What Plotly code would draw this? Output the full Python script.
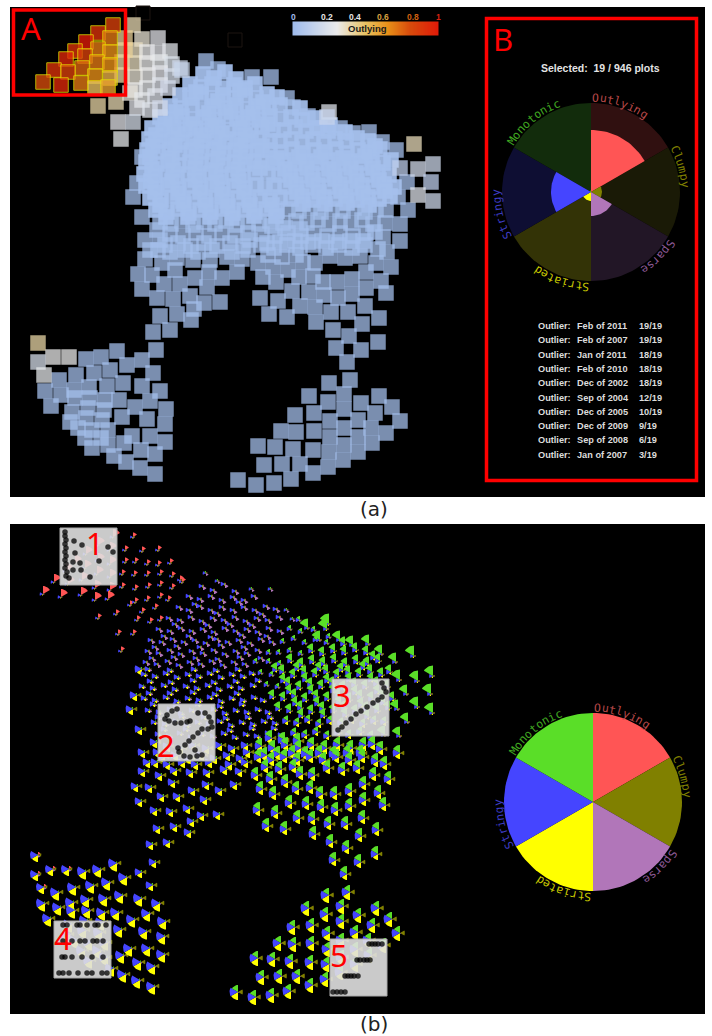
import math
import numpy as np
import plotly.graph_objects as go

# ---- panel (a) point positions ------------------------------------------------------
selected_pts = [(113,25,.85),(98,33,.9),(110,38,.7),(86,42,1),(75,51,.9),(98,49,.7),(110,52,.65),(85,56,.85),
                (66,59,.95),(97,62,.7),(110,65,.65),(82,68,.75),(54,70,.9),(68,72,.85),(95,76,.65),(110,78,.55),
                (43,82,.8),(61,85,.95),(81,83,.7),(95,88,.5),(108,87,.6)]
near_pts = [(133,25,.38),(142,39,.33),(158,38,.27),(170,51,.26),(135,50,.36),(147,52,.3),(158,53,.27),(134,63,.36),
            (147,63,.3),(160,62,.28),(172,64,.24),(180,68,.18),(125,50,.42),(125,38,.42),(122,62,.4),(122,75,.4),
            (135,77,.33),(148,75,.3),(160,73,.27),(172,76,.22),(135,90,.3),(147,88,.28),(160,85,.25),(98,106,.4),
            (116,102,.38),(130,93,.32),(142,100,.28),(155,96,.25),(137,108,.27),(150,110,.25),(118,122,.27),
            (133,122,.22),(121,139,.28),(160,108,.2),(168,88,.2),(182,70,.16)]
right_pale_pts = [(329,112,.25),(327,117,.15),(414,144,.37),(433,164,.18),(418,169,.2),(431,182,.12),(418,195,.25),
                  (433,201,.18),(400,168,.12)]
lower_pale_pts = [(38,343,.4),(53,357,.3),(69,357,.3),(38,362,.22),(44,375,.28)]
faint_pts = [(143,13),(235,40)]

dense_top = [(203,74),(214,78),(225,72),(236,79),(190,84),(201,87),(212,84),(223,88),(234,85),(245,88),(255,84),
             (180,95),(190,98),(201,94),(212,98),(223,95),(234,98),(245,95),(256,98),(267,94),(277,97),
             (170,106),(181,108),(192,105),(203,109),(214,106),(225,108),(236,105),(247,109),(258,106),(269,108),(280,105),
             (160,117),(171,119),(182,116),(193,119),(204,117),(215,120),(226,116),(237,119),(248,117),(259,120),(270,116),(281,119),
             (152,128),(163,130),(174,127),(185,130),(196,128),(207,131),(218,127),(229,130),(240,128),(251,131),(262,127),(273,130),
             (149,139),(160,141),(171,138),(182,142),(193,139),(204,141),(215,138),(226,142),(237,139),(248,141),(259,138),
             (147,150),(158,152),(169,149),(180,153),(191,150),(202,152),(213,149),(224,153),(235,150),(246,152)]
extra_top = [(196,92),(218,101),(240,90),(263,102),(176,112),(209,113),(231,112),(253,113),(165,124),(190,124),(212,125),
             (243,123),(268,124),(156,135),(178,134),(201,135),(222,133),(245,135),(153,146),(175,145),(197,146),(219,147),
             (241,145),(262,146)]
dense_right_small = [(291,117),(302,120),(284,130),(295,127),(306,131),(317,128),(328,131),(270,141),(280,141),(291,139),
                     (302,142),(257,150),(270,150),(281,152),(262,161),(273,163),(268,173),(279,175),(315,118),(330,125),(300,108)]
dense_right = [(313,139),(324,142),(335,139),(346,141),(357,138),(368,141),(292,149),(303,153),(314,150),(325,152),(336,149),
               (347,153),(358,150),(369,152),(380,149),(284,160),(295,164),(306,161),(317,163),(328,160),(339,164),(350,161),
               (361,163),(372,160),(383,163),(391,160),(290,172),(301,176),(312,173),(323,175),(334,172),(345,176),(356,173),
               (367,175),(378,172),(389,175),(274,185),(285,187),(296,184),(307,188),(318,185),(329,187),(340,184),(351,188),
               (362,185),(373,187),(384,184),(394,187),(280,197),(291,199),(302,196),(313,200),(324,197),(335,199),(346,196),
               (357,200),(368,197),(379,199),(390,196),(345,132),(375,146)]
extra_right = [(277,158),(299,157),(321,157),(343,158),(365,156),(285,169),(307,168),(329,169),(351,168),(373,168),(291,180),
               (313,180),(335,179),(357,181),(379,180),(297,192),(319,192),(341,191),(363,193),(385,191),(303,204),(325,204),
               (347,203),(369,205)]
dense_right_low = [(288,209),(299,211),(310,208),(321,212),(332,209),(343,211),(354,208),(365,212),(376,209),(386,210),
                   (296,221),(307,223),(318,220),(329,224),(340,221),(351,223),(362,220),(373,224)]
dense_mid = [(146,162),(157,164),(168,161),(179,165),(190,162),(201,164),(212,161),(223,165),(234,162),(245,164),(254,161),
             (144,174),(155,176),(166,173),(177,177),(188,174),(199,176),(210,173),(221,177),(232,174),(243,176),(255,173),
             (146,186),(157,188),(168,185),(179,189),(190,186),(201,188),(212,185),(223,189),(234,186),(245,188),(256,185),(265,188),
             (150,198),(161,200),(172,197),(183,201),(194,198),(205,200),(216,197),(227,201),(238,198),(249,200),(260,197),(270,200),
             (156,210),(167,212),(178,209),(189,213),(200,210),(211,212),(222,209),(233,213),(244,210),(255,212),(266,209),(277,211)]
mid_low = [(160,222),(171,224),(182,221),(193,225),(204,222),(215,224),(226,221),(237,225),(248,222),(259,224),(270,221),(283,223)]
extra_mid = [(150,157),(172,158),(196,157),(218,158),(240,157),(152,169),(173,170),(195,168),(216,170),(238,169),(260,168),
             (151,181),(172,181),(195,180),(217,182),(239,181),(155,192),(178,193),(200,192),(222,194),(244,192),(160,205),
             (184,204),(206,205),(228,206),(250,205),(272,205),(166,217),(188,217),(210,217),(232,218),(254,216),(276,216)]
outer_left = [(142,157),(137,183),(133,197),(142,217),(145,240),(157,230),(145,259),(138,274),(152,275),(162,263),(175,270),
              (142,289),(164,284),(180,284),(195,278),(209,272),(222,278),(237,272),(242,259),(207,287),(190,296),(157,298),
              (173,299),(204,303),(220,302),(194,309),(160,316),(177,314),(191,320),(153,332),(170,330),(193,260),(210,260),
              (227,257),(177,258),(165,245),(178,243),(191,246),(204,243),(217,246),(230,243),(243,246),(170,234),(183,236),
              (196,233),(209,236),(222,233),(235,236),(248,233),(156,350),(142,360),(153,373),(158,250),(170,252),(185,250),
              (198,252),(212,250),(232,252),(248,250),(250,240),(160,240),(150,250)]
outer_right = [(258,263),(273,267),(263,277),(276,282),(288,270),(303,262),(315,263),(299,277),(313,276),(323,282),(337,282),
               (352,279),(366,272),(376,263),(391,267),(381,281),(366,288),(386,293),(260,298),(278,301),(292,291),(309,292),
               (324,295),(338,298),(352,294),(300,306),(315,307),(331,312),(348,312),(365,306),(269,314),(287,317),(316,322),
               (333,330),(362,324),(379,318),(349,336),(336,348),(361,350),(378,342),(347,362),(261,245),(274,248),(287,245),
               (300,248),(313,245),(326,248),(339,245),(352,248),(365,245),(378,249),(387,252),(383,237),(400,241),(262,234),
               (275,236),(288,233),(301,236),(314,233),(327,236),(340,233),(353,236),(366,233),(268,255),(282,257),(296,255),
               (330,256),(345,258),(360,256),(267,243),(280,242),(295,241),(308,242),(322,241),(336,242),(350,241),(363,241),
               (375,232),(272,226),(285,228),(300,229)]
outer_top_small = [(206,61),(218,69),(252,77),(271,77),(287,98),(293,107)]
outer_top = [(308,116),(320,128),(340,128),(353,133),(369,132),(382,142),(396,150),(407,182),(408,210),(400,224),(385,223),(398,197)]
arm_left = [(86,359),(101,357),(117,351),(127,365),(110,370),(94,373),(76,375),(59,380),(45,391),(74,390),(89,387),(107,386),
            (123,383),(142,386),(160,391),(150,401),(135,407),(119,400),(61,395),(51,406),(166,409),(147,419),(122,417),(165,424),
            (150,436),(132,436),(165,442),(141,450),(155,454),(124,443),(114,456),(126,462),(140,468),(155,474)]
arm_left_dense = [(75,398),(90,398),(105,400),(72,412),(88,408),(104,410),(70,422),(86,418),(102,420),(78,428),(92,430),(108,430),
                  (85,438),(101,438),(92,448),(108,445)]
arm_right = [(350,380),(329,383),(309,396),(328,402),(344,394),(361,403),(379,396),(392,407),(400,421),(375,413),(344,409),
             (295,415),(314,413),(330,421),(358,420),(344,428),(371,428),(386,433),(281,431),(296,432),(314,431),(330,437),
             (358,437),(372,443),(344,445),(258,446),(275,447),(293,449),(313,450),(329,452),(358,452),(343,460),(328,467),
             (264,465),(282,464),(300,464),(313,473),(238,480),(256,485),(274,483),(291,479)]

# ---- measure profile of the small glyphs in panel (b), wedge radius per group --------
measures = ["Outlying", "Clumpy", "Sparse", "Striated", "Stringy", "Monotonic"]
solid_colors = ["#ff5555", "#808000", "#b176b9", "#ffff00", "#4545ff", "#5ade28"]
dark_colors = ["#301010", "#1a1a06", "#221626", "#333306", "#0e0e33", "#122c0c"]
label_colors = ["#b84848", "#808000", "#8e5a96", "#c8c800", "#3c3cc0", "#40a820"]
glyph_selected = [8, 1.5, 1, 1.5, 3.5, .5]
glyph_near = [4.5, 2, 1.5, 1.5, 3, .5]
glyph_top = [1.2, 1, 4, 1.5, 4.5, 1.2]
glyph_top_small = [1, 1.5, 3, 1, 3.5, 2]
glyph_mid = [.5, 1.5, 2.5, 3, 5.5, 1.5]
glyph_right_small = [.5, 1.5, 1.5, 1.5, 4.5, 4]
glyph_right = [.5, 2, 1, 2.5, 5, 7.5]
glyph_right_low = [.5, 2.5, 1, 4, 6, 5.5]
glyph_top_outer = [1, 2, 1.5, 1.5, 4, 9.5]
glyph_left = [.5, 4.5, 1, 6, 7.5, 2]
glyph_lower_right = [.5, 4.5, 1, 6, 7.5, 8]
glyph_arm_left = [.8, 4.5, 1.5, 8.5, 9, 1.5]
glyph_arm_right = [.5, 5, 1, 8, 8.5, 7]
glyph_pale = [3, 3.5, 2.5, 7, 8, 1]
pale_right = [1, 2, 1, 2, 4, 10.5]

# ---- panel (B) -----------------------------------------------------------------------
selected_title = "Selected:  19 / 946 plots"
selected_means = [62, 11, 24, 9, 40, 1.5]
outlier_months = ["Feb of 2011", "Feb of 2007", "Jan of 2011", "Feb of 2010", "Dec of 2002",
                  "Sep of 2004", "Dec of 2005", "Dec of 2009", "Sep of 2008", "Jan of 2007"]
outlier_counts = ["19/19", "19/19", "18/19", "18/19", "18/19", "12/19", "10/19", "9/19", "6/19", "3/19"]
scale_ticks = ["0", "0.2", "0.4", "0.6", "0.8", "1"]
scale_tick_colors = ["#a0bcec", "#e6e6e6", "#e6e6e6", "#d8a040", "#d06010", "#d82010"]
scale_tick_x = [293, 327, 355, 383, 413, 438]
scale_stops = [[0, "#a0bcec"], [.3, "#ebebeb"], [.5, "#e8c060"], [.65, "#e89018"], [.8, "#d84c0c"], [1, "#e01a08"]]

# ---- thumbnails of panel (b) ---------------------------------------------------------
thumb_boxes = [(60,528,"1",95,543), (158,704,"2",166,745), (332,679,"3",342,695), (54,921,"4",63,938), (330,939,"5",339,955)]
thumb1 = [(65,532),(65,536),(66,540),(65,544),(66,548),(65,552),(66,556),(65,560),(66,564),(65,568),(67,572),(66,576),(69,578),
          (74,541),(82,545),(75,553),(108,547),(113,552),(73,562),(80,563),(99,561),(81,570),(73,570),(90,577)]
thumb2 = [(177,709),(172,711),(167,715),(165,719),(169,721),(175,723),(181,723),(187,722),(190,721),(198,713),(205,713),(209,717),
          (211,722),(212,727),(208,729),(202,729),(198,733),(193,737),(189,741),(185,745),(178,748),(179,752),(184,756),(190,757),
          (197,756),(202,755),(195,750)]
thumb3 = [(382,683),(384,688),(386,692),(382,697),(378,700),(373,703),(367,707),(361,711),(356,714),(351,719),(346,723),(342,727),(338,730)]
thumb4 = [(63,925),(67,925),(77,925),(80,925),(87,925),(95,925),(98,925),(106,925),(63,941),(72,941),(80,941),(85,941),(93,941),
          (97,941),(103,941),(62,957),(65,957),(72,957),(82,957),(92,957),(103,957),(59,973),(63,973),(69,973),(78,973),(87,973),
          (92,973),(102,973),(107,973)]
thumb5 = [(369,944),(372,944),(375,944),(378,944),(382,944),(357,960),(360,960),(364,960),(367,960),(370,960),(345,976),(348,976),
          (351,976),(354,976),(358,976),(333,992),(337,992),(341,992),(345,992)]

PANEL_B_SHIFT = 512


def wedge_xy(cx, cy, r, k):
    a0, a1 = math.radians(60 * k), math.radians(60 * (k + 1))
    steps = max(3, int(r / 2) + 3)
    xs, ys = [cx], [cy]
    for i in range(steps + 1):
        a = a0 + (a1 - a0) * i / steps
        xs.append(cx + r * math.sin(a))
        ys.append(cy - r * math.cos(a))
    xs += [cx, None]
    ys += [cy, None]
    return xs, ys


def filled(xs, ys, color):
    return go.Scatter(x=xs, y=ys, mode="lines", fill="toself", fillcolor=color, line=dict(width=0, color=color),
                      hoverinfo="skip", showlegend=False)


fig = go.Figure()

def squares(pts, opacity, size=15.5, line=None):
    xs = [p[0] for p in pts]
    ys = [p[1] for p in pts]
    vals = [p[2] if len(p) > 2 else 0.02 for p in pts]
    return go.Scatter(x=xs, y=ys, mode="markers", hoverinfo="skip", showlegend=False,
                      marker=dict(symbol="square", size=size, color=vals, colorscale=scale_stops, cmin=0, cmax=1,
                                  opacity=opacity, line=line or dict(width=0)))

fig.add_trace(go.Scatter(x=[p[0] for p in faint_pts], y=[p[1] for p in faint_pts], mode="markers", hoverinfo="skip", showlegend=False,
                         marker=dict(symbol="square", size=14, color="#000000", line=dict(width=1, color="#1c1410"))))
outer = outer_left + outer_right + outer_top + outer_top_small + arm_left + arm_right + arm_left_dense
fig.add_trace(squares(outer, .74))
fig.add_trace(squares(dense_top + extra_top + dense_right + dense_right_small + extra_right + dense_mid + extra_mid, .93))
fig.add_trace(squares(dense_right_low + mid_low, .74))
fig.add_trace(squares(near_pts + right_pale_pts + lower_pale_pts, .74))
fig.add_trace(squares(selected_pts, .78, 14.5, dict(width=1, color="#e8e000")))

groups = [(selected_pts, glyph_selected), (near_pts, glyph_near), (right_pale_pts, pale_right), (lower_pale_pts, glyph_pale),
          (dense_top, glyph_top), (extra_top, glyph_top), (dense_right_small, glyph_right_small), (dense_right, glyph_right),
          (extra_right, glyph_right), (dense_right_low, glyph_right_low), (dense_mid, glyph_mid), (extra_mid, glyph_mid),
          (mid_low, glyph_mid), (outer_left, glyph_left), (outer_right, glyph_lower_right), (outer_top, glyph_top_outer),
          (outer_top_small, glyph_top_small), (arm_left, glyph_arm_left), (arm_left_dense, glyph_arm_left),
          (arm_right, glyph_arm_right)]
for k, color in enumerate(solid_colors):
    gx, gy = [], []
    for pts, radii in groups:
        for p in pts:
            wx, wy = wedge_xy(p[0], p[1] + PANEL_B_SHIFT, radii[k], k)
            gx += wx
            gy += wy
    fig.add_trace(filled(gx, gy, color))

for (bx, by, _, _, _) in thumb_boxes:
    fig.add_trace(go.Scatter(x=[bx, bx + 57, bx + 57, bx, bx], y=[by, by, by + 57, by + 57, by], mode="lines", fill="toself",
                             fillcolor="rgba(224,224,224,.9)", line=dict(width=1, color="#aaaaaa"), hoverinfo="skip", showlegend=False))
for pts in [thumb1, thumb2, thumb3, thumb4, thumb5]:
    fig.add_trace(go.Scatter(x=[p[0] for p in pts], y=[p[1] for p in pts], mode="markers", hoverinfo="skip", showlegend=False,
                             marker=dict(size=5.5, color="rgba(0,0,0,.75)")))

PIE_B = (591, 192, 89)
PIE_L = (593, 802, 89)
def pie_wedge(cx, cy, r, k, color):
    a = [60 * k + 60 * i / 24 for i in range(25)]
    xs = [cx] + [cx + r * math.sin(math.radians(t)) for t in a] + [cx]
    ys = [cy] + [cy - r * math.cos(math.radians(t)) for t in a] + [cy]
    fig.add_trace(filled(xs, ys, color))

for k in range(6):
    pie_wedge(PIE_B[0], PIE_B[1], PIE_B[2], k, dark_colors[k])
for k in range(6):
    pie_wedge(PIE_B[0], PIE_B[1], selected_means[k], k, solid_colors[k])
for k in range(6):
    pie_wedge(PIE_L[0], PIE_L[1], PIE_L[2], k, solid_colors[k])

# colour scale
scale_x = np.linspace(293, 438, 146)
fig.add_trace(go.Heatmap(x=scale_x, y0=28.5, dy=14, z=[list(np.linspace(0, 1, 146))], colorscale=scale_stops, zmin=0, zmax=1,
                         showscale=False, hoverinfo="skip"))

anns = []
def text(x, y, s, size, color, family="Liberation Sans", bold=False, angle=0, xanchor="center"):
    anns.append(dict(x=x, y=y, xref="x", yref="y", text=f"<b>{s}</b>" if bold else s, showarrow=False, textangle=angle,
                     xanchor=xanchor, yanchor="middle", font=dict(size=size, color=color, family=family)))

for s, c, x in zip(scale_ticks, scale_tick_colors, scale_tick_x):
    text(x, 16.5, s, 8.5, c, bold=True)
text(367, 28, "Outlying", 9.5, "#1a1a1a", bold=True)
text(600, 68, selected_title, 10.5, "#e4e4e4", bold=True)
for i, (m, c) in enumerate(zip(outlier_months, outlier_counts)):
    y = 326 + i * 14.3
    text(535.5, y, "Outlier:", 9.2, "#dddddd", bold=True, xanchor="left")
    text(574.5, y, m, 9.2, "#dddddd", bold=True, xanchor="left")
    text(636.5, y, c, 9.2, "#dddddd", bold=True, xanchor="left")

for cx, cy in [(PIE_B[0], PIE_B[1]), (PIE_L[0], PIE_L[1])]:
    for k, name in enumerate(measures):
        for j, ch in enumerate(name):
            t = 60 * k + 3 + 4.45 * j
            text(cx + 94.5 * math.sin(math.radians(t)), cy - 94.5 * math.cos(math.radians(t)), ch, 11.5, label_colors[k],
                 family="DejaVu Sans Mono", angle=t)

text(31, 28, "A", 31, "#ff0000", family="Noto Sans")
text(503, 39, "B", 31, "#ff0000", family="Noto Sans")
for (_, _, n, x, y) in thumb_boxes:
    text(x, y, n, 31, "#ff0000", family="Noto Sans")
text(374, 509, "(a)", 20, "#222222", family="DejaVu Sans")
text(374, 1024, "(b)", 20, "#222222", family="DejaVu Sans")

shapes = [dict(type="rect", x0=10, x1=705, y0=7, y1=497, fillcolor="#000000", line=dict(width=0), layer="below"),
          dict(type="rect", x0=10, x1=705, y0=524, y1=1014, fillcolor="#000000", line=dict(width=0), layer="below"),
          dict(type="rect", x0=13.5, x1=125.5, y0=10, y1=95, line=dict(color="#ff0000", width=3.5), layer="above"),
          dict(type="rect", x0=486.5, x1=696.5, y0=18.5, y1=480.5, line=dict(color="#ff0000", width=3.5), layer="above")]

fig.update_layout(width=712, height=1036, margin=dict(l=0, r=0, t=0, b=0), paper_bgcolor="#ffffff", plot_bgcolor="#ffffff",
                  showlegend=False, annotations=anns, shapes=shapes,
                  xaxis=dict(range=[0, 712], visible=False, fixedrange=True),
                  yaxis=dict(range=[1036, 0], visible=False, fixedrange=True))
fig.write_html("out.html", post_script="document.body.style.margin='0';", config=dict(displayModeBar=False))
